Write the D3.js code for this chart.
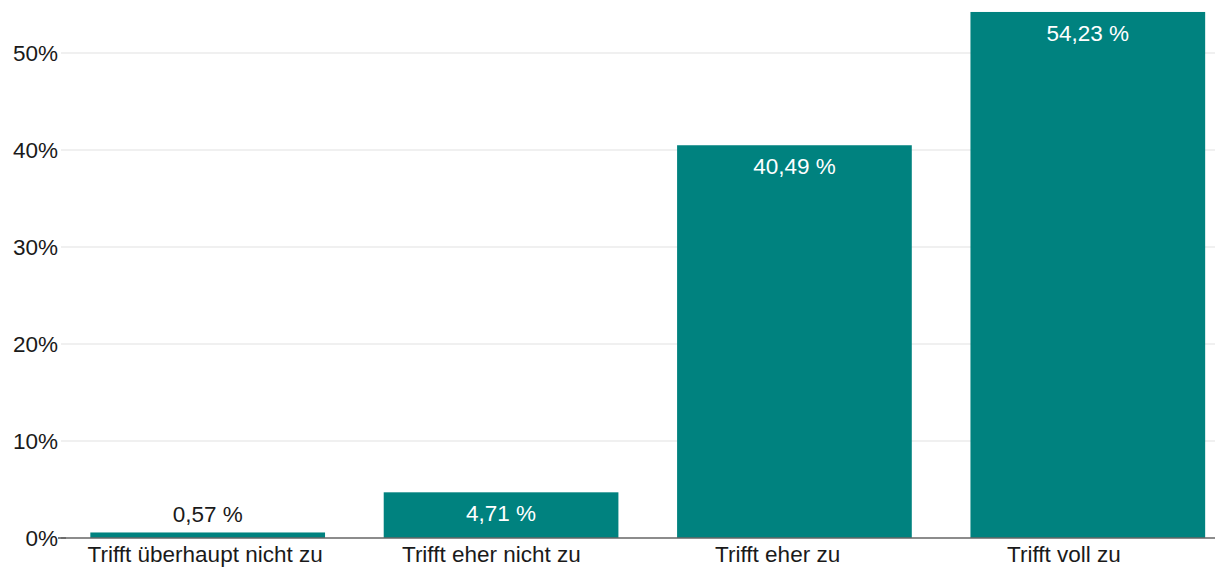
<!DOCTYPE html>
<html><head><meta charset="utf-8">
<script src="https://cdn.jsdelivr.net/npm/d3@7"></script>
<style>html,body{margin:0;padding:0;background:#fff;overflow:hidden}</style>
</head><body>
<svg id="c" width="1215" height="567"></svg>
<script>
const categories = ["Trifft überhaupt nicht zu", "Trifft eher nicht zu", "Trifft eher zu", "Trifft voll zu"];
const values = [0.57, 4.71, 40.49, 54.23];
const valueLabels = ["0,57 %", "4,71 %", "40,49 %", "54,23 %"];
const yTicks = [0, 10, 20, 30, 40, 50];

const svg = d3.select("#c");
const font = "'Liberation Sans', Arial, Helvetica, sans-serif";
const fs = 22.5;
const x = d3.scaleBand().domain(categories).range([61, 1234.5]).paddingInner(0.2).paddingOuter(0.1);
// category labels sit on a slightly narrower spacing than the bars
const xLab = d3.scaleBand().domain(categories).range([62, 1207]).padding(0);
const y = d3.scaleLinear().domain([0, 50]).range([538, 53]);

// gridlines
svg.append("g").selectAll("line").data(yTicks.filter(d => d > 0)).join("line")
  .attr("x1", 61).attr("x2", 1215)
  .attr("y1", d => y(d)).attr("y2", d => y(d))
  .attr("stroke", "#ebebeb").attr("stroke-width", 1.5);

// y axis labels
const yAxis = d3.axisLeft(y).tickValues(yTicks).tickFormat(d => d + "%").tickSize(0).tickPadding(3);
const ya = svg.append("g").attr("transform", "translate(61,0)").call(yAxis);
ya.select(".domain").remove();
ya.selectAll("text").attr("font-family", font).attr("font-size", fs).attr("fill", "#1a1a1a");
ya.selectAll(".tick line").remove();
svg.append("line").attr("x1", 58).attr("x2", 66).attr("y1", y(0)).attr("y2", y(0)).attr("stroke", "#555").attr("stroke-width", 1.5);

// bars
svg.append("g").selectAll("rect").data(values).join("rect")
  .attr("x", (d, i) => x(categories[i]))
  .attr("width", x.bandwidth())
  .attr("y", d => y(d))
  .attr("height", d => y(0) - y(d))
  .attr("fill", "#00827f");

// baseline
svg.append("line").attr("x1", 61).attr("x2", 1215).attr("y1", y(0)).attr("y2", y(0))
  .attr("stroke", "#666").attr("stroke-width", 1.5);

// value labels
const inside = d => (y(0) - y(d)) > 35;
svg.append("g").selectAll("text").data(values).join("text")
  .attr("x", (d, i) => x(categories[i]) + x.bandwidth() / 2)
  .attr("y", d => inside(d) ? y(d) + 29 : y(d) - 10)
  .attr("text-anchor", "middle")
  .attr("font-family", font).attr("font-size", fs)
  .attr("fill", d => inside(d) ? "#fff" : "#1a1a1a")
  .text((d, i) => valueLabels[i]);

// x axis labels
const xAxis = d3.axisBottom(xLab).tickSize(0).tickPadding(8);
const xa = svg.append("g").attr("transform", `translate(0,${y(0)})`).call(xAxis);
xa.select(".domain").remove();
xa.selectAll("text").attr("font-family", font).attr("font-size", fs).attr("fill", "#1a1a1a");
</script>
</body></html>
